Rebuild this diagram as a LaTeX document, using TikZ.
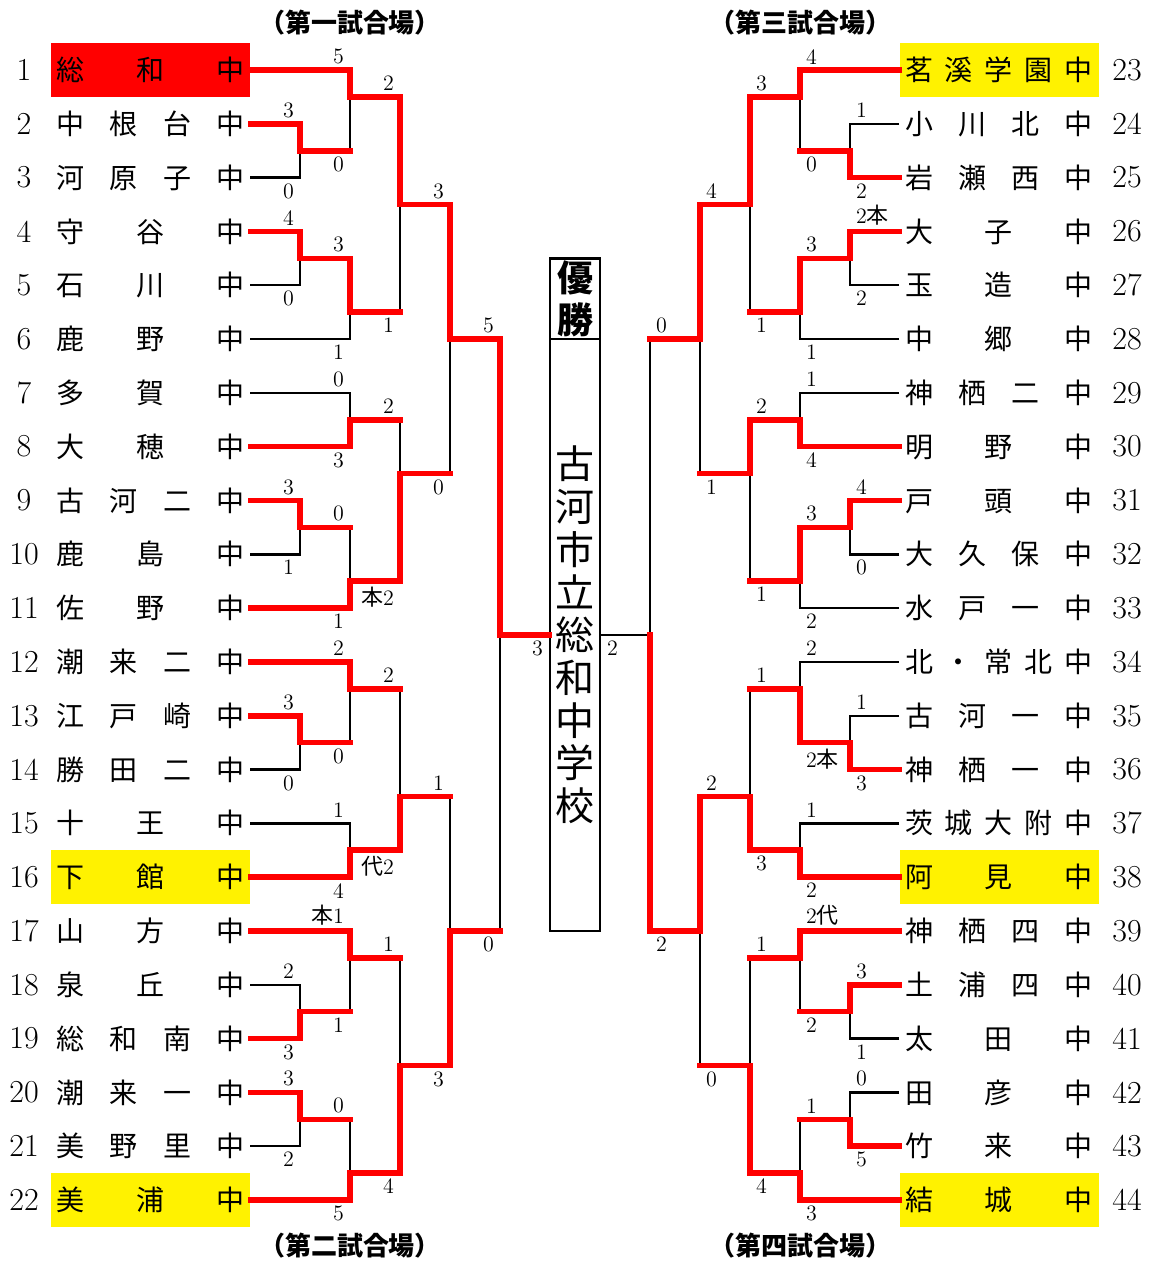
\documentclass[tikz,border=0pt]{standalone}
\usepackage{fontspec}
\newfontfamily\jp{Noto Sans CJK JP}
\newcommand\nm[1]{\makebox[94pt][s]{#1}}
\tikzset{
  team/.style={minimum width=99.5pt, minimum height=26.905pt, inner sep=0pt, font=\jp\fontsize{14}{14}\selectfont},
  num/.style={font=\fontsize{16}{16}\selectfont},
  sc/.style={text=black, font=\fontsize{11}{11}\selectfont, inner sep=1pt, outer sep=2pt},
  win/.style={red, line width=2.8pt, line cap=rect},
  lose/.style={line width=1.2pt},
  field/.style={font=\jp\bfseries\fontsize{13}{13}\selectfont},
  champ/.style={draw, line width=1.2pt, minimum width=25pt, inner sep=0pt, align=center}
}
\begin{document}
\begin{tikzpicture}[x=25pt, y=-13.4525pt]
\useasboundingbox (0,-0.6018) rectangle (23,46.267);
\node[field] (fld1) at (7,0.22) {（第一試合場）};
\node[field] (fld2) at (7,45.71) {（第二試合場）};
\node[field] (fld3) at (16,0.22) {（第三試合場）};
\node[field] (fld4) at (16,45.71) {（第四試合場）};
\foreach \i in {1,...,22} \node[num] (n\i) at (0.48,2*\i) {\i};
\foreach \i in {23,...,44} \node[num] (n\i) at (22.54,{2*\i-44}) {\i};
\node[team, fill=red] (t1) at (3.01,2) {\nm{総 和 中}};
\node[team] (t2) at (3.01,4) {\nm{中 根 台 中}};
\node[team] (t3) at (3.01,6) {\nm{河 原 子 中}};
\node[team] (t4) at (3.01,8) {\nm{守 谷 中}};
\node[team] (t5) at (3.01,10) {\nm{石 川 中}};
\node[team] (t6) at (3.01,12) {\nm{鹿 野 中}};
\node[team] (t7) at (3.01,14) {\nm{多 賀 中}};
\node[team] (t8) at (3.01,16) {\nm{大 穂 中}};
\node[team] (t9) at (3.01,18) {\nm{古 河 二 中}};
\node[team] (t10) at (3.01,20) {\nm{鹿 島 中}};
\node[team] (t11) at (3.01,22) {\nm{佐 野 中}};
\node[team] (t12) at (3.01,24) {\nm{潮 来 二 中}};
\node[team] (t13) at (3.01,26) {\nm{江 戸 崎 中}};
\node[team] (t14) at (3.01,28) {\nm{勝 田 二 中}};
\node[team] (t15) at (3.01,30) {\nm{十 王 中}};
\node[team, fill=yellow] (t16) at (3.01,32) {\nm{下 館 中}};
\node[team] (t17) at (3.01,34) {\nm{山 方 中}};
\node[team] (t18) at (3.01,36) {\nm{泉 丘 中}};
\node[team] (t19) at (3.01,38) {\nm{総 和 南 中}};
\node[team] (t20) at (3.01,40) {\nm{潮 来 一 中}};
\node[team] (t21) at (3.01,42) {\nm{美 野 里 中}};
\node[team, fill=yellow] (t22) at (3.01,44) {\nm{美 浦 中}};
\node[team, fill=yellow] (t23) at (19.98,2) {\nm{茗 溪 学 園 中}};
\node[team] (t24) at (19.98,4) {\nm{小 川 北 中}};
\node[team] (t25) at (19.98,6) {\nm{岩 瀬 西 中}};
\node[team] (t26) at (19.98,8) {\nm{大 子 中}};
\node[team] (t27) at (19.98,10) {\nm{玉 造 中}};
\node[team] (t28) at (19.98,12) {\nm{中 郷 中}};
\node[team] (t29) at (19.98,14) {\nm{神 栖 二 中}};
\node[team] (t30) at (19.98,16) {\nm{明 野 中}};
\node[team] (t31) at (19.98,18) {\nm{戸 頭 中}};
\node[team] (t32) at (19.98,20) {\nm{大 久 保 中}};
\node[team] (t33) at (19.98,22) {\nm{水 戸 一 中}};
\node[team] (t34) at (19.98,24) {\nm{北 ・ 常 北 中}};
\node[team] (t35) at (19.98,26) {\nm{古 河 一 中}};
\node[team] (t36) at (19.98,28) {\nm{神 栖 一 中}};
\node[team] (t37) at (19.98,30) {\nm{茨 城 大 附 中}};
\node[team, fill=yellow] (t38) at (19.98,32) {\nm{阿 見 中}};
\node[team] (t39) at (19.98,34) {\nm{神 栖 四 中}};
\node[team] (t40) at (19.98,36) {\nm{土 浦 四 中}};
\node[team] (t41) at (19.98,38) {\nm{太 田 中}};
\node[team] (t42) at (19.98,40) {\nm{田 彦 中}};
\node[team] (t43) at (19.98,42) {\nm{竹 来 中}};
\node[team, fill=yellow] (t44) at (19.98,44) {\nm{結 城 中}};
\node[champ, minimum height=40.36pt, font=\jp\bfseries\fontsize{18}{21}\selectfont] (yusho) at (11.5,10.5) {優\\勝};
\node[champ, minimum height=295.96pt, font=\jp\fontsize{19.5}{21.35}\selectfont] (school) at (11.5,23) {古\\河\\市\\立\\総\\和\\中\\学\\校};
\coordinate (a1) at (6,5);
\coordinate (a2) at (7,3);
\coordinate (a3) at (6,9);
\coordinate (a4) at (7,11);
\coordinate (a5) at (8,7);
\coordinate (a6) at (7,15);
\coordinate (a7) at (6,19);
\coordinate (a8) at (7,21);
\coordinate (a9) at (8,17);
\coordinate (a10) at (9,12);
\coordinate (b1) at (6,27);
\coordinate (b2) at (7,25);
\coordinate (b3) at (7,31);
\coordinate (b4) at (8,29);
\coordinate (b5) at (6,37);
\coordinate (b6) at (7,35);
\coordinate (b7) at (6,41);
\coordinate (b8) at (7,43);
\coordinate (b9) at (8,39);
\coordinate (b10) at (9,34);
\coordinate (lf) at (10,23);
\coordinate (c1) at (17,5);
\coordinate (c2) at (16,3);
\coordinate (c3) at (17,9);
\coordinate (c4) at (16,11);
\coordinate (c5) at (15,7);
\coordinate (c6) at (16,15);
\coordinate (c7) at (17,19);
\coordinate (c8) at (16,21);
\coordinate (c9) at (15,17);
\coordinate (c10) at (14,12);
\coordinate (d1) at (17,27);
\coordinate (d2) at (16,25);
\coordinate (d3) at (16,31);
\coordinate (d4) at (15,29);
\coordinate (d5) at (17,37);
\coordinate (d6) at (16,35);
\coordinate (d7) at (17,41);
\coordinate (d8) at (16,43);
\coordinate (d9) at (15,39);
\coordinate (d10) at (14,34);
\coordinate (rf) at (13,23);
\draw[lose] (t3.east) -| node[sc, below left]{0} (a1);
\draw[lose] (a1) -| node[sc, below left]{0} (a2);
\draw[lose] (t5.east) -| node[sc, below left]{0} (a3);
\draw[lose] (t6.east) -| node[sc, below left]{1} (a4);
\draw[lose] (a4) -| node[sc, below left]{1} (a5);
\draw[lose] (t7.east) -| node[sc, above left]{0} (a6);
\draw[lose] (t10.east) -| node[sc, below left]{1} (a7);
\draw[lose] (a7) -| node[sc, above left]{0} (a8);
\draw[lose] (a6) -| node[sc, above left]{2} (a9);
\draw[lose] (a9) -| node[sc, below left]{0} (a10);
\draw[lose] (t14.east) -| node[sc, below left]{0} (b1);
\draw[lose] (b1) -| node[sc, below left]{0} (b2);
\draw[lose] (t15.east) -| node[sc, above left]{1} (b3);
\draw[lose] (b2) -| node[sc, above left]{2} (b4);
\draw[lose] (t18.east) -| node[sc, above left]{2} (b5);
\draw[lose] (b5) -| node[sc, below left]{1} (b6);
\draw[lose] (t21.east) -| node[sc, below left]{2} (b7);
\draw[lose] (b7) -| node[sc, above left]{0} (b8);
\draw[lose] (b6) -| node[sc, above left]{1} (b9);
\draw[lose] (b4) -| node[sc, above left]{1} (b10);
\draw[lose] (b10) -| node[sc, below left]{0} (lf);
\draw[lose] (t24.west) -| node[sc, above right]{1} (c1);
\draw[lose] (c1) -| node[sc, below right]{0} (c2);
\draw[lose] (t27.west) -| node[sc, below right]{2} (c3);
\draw[lose] (t28.west) -| node[sc, below right]{1} (c4);
\draw[lose] (c4) -| node[sc, below right]{1} (c5);
\draw[lose] (t29.west) -| node[sc, above right]{1} (c6);
\draw[lose] (t32.west) -| node[sc, below right]{0} (c7);
\draw[lose] (t33.west) -| node[sc, below right]{2} (c8);
\draw[lose] (c8) -| node[sc, below right]{1} (c9);
\draw[lose] (c9) -| node[sc, below right]{1} (c10);
\draw[lose] (t35.west) -| node[sc, above right]{1} (d1);
\draw[lose] (t34.west) -| node[sc, above right]{2} (d2);
\draw[lose] (t37.west) -| node[sc, above right]{1} (d3);
\draw[lose] (d2) -| node[sc, above right]{1} (d4);
\draw[lose] (t41.west) -| node[sc, below right]{1} (d5);
\draw[lose] (d5) -| node[sc, below right]{2} (d6);
\draw[lose] (t42.west) -| node[sc, above right]{0} (d7);
\draw[lose] (d7) -| node[sc, above right]{1} (d8);
\draw[lose] (d6) -| node[sc, above right]{1} (d9);
\draw[lose] (d9) -| node[sc, below right]{0} (d10);
\draw[lose] (c10) -| node[sc, above right]{0} (rf);
\draw[lose] (rf) -- node[sc, pos=1, below right]{2} (school.east);
\draw[win] (t2.east) -| node[sc, above left]{3} (a1) -- (a1 -| a2);
\draw[win] (t1.east) -| node[sc, above left]{5} (a2) -- (a2 -| a5);
\draw[win] (t4.east) -| node[sc, above left]{4} (a3) -- (a3 -| a4);
\draw[win] (a3) -| node[sc, above left]{3} (a4) -- (a4 -| a5);
\draw[win] (a2) -| node[sc, above left]{2} (a5) -- (a5 -| a10);
\draw[win] (t8.east) -| node[sc, below left]{3} (a6) -- (a6 -| a9);
\draw[win] (t9.east) -| node[sc, above left]{3} (a7) -- (a7 -| a8);
\draw[win] (t11.east) -| node[sc, below left]{1} (a8) -- (a8 -| a9);
\draw[win] (a8) -| node[sc, below left]{{\jp 本}2} (a9) -- (a9 -| a10);
\draw[win] (a5) -| node[sc, above left]{3} (a10) -- (a10 -| lf);
\draw[win] (t13.east) -| node[sc, above left]{3} (b1) -- (b1 -| b2);
\draw[win] (t12.east) -| node[sc, above left]{2} (b2) -- (b2 -| b4);
\draw[win] (t16.east) -| node[sc, below left]{4} (b3) -- (b3 -| b4);
\draw[win] (b3) -| node[sc, below left]{{\jp 代}2} (b4) -- (b4 -| b10);
\draw[win] (t19.east) -| node[sc, below left]{3} (b5) -- (b5 -| b6);
\draw[win] (t17.east) -| node[sc, above left]{{\jp 本}1} (b6) -- (b6 -| b9);
\draw[win] (t20.east) -| node[sc, above left]{3} (b7) -- (b7 -| b8);
\draw[win] (t22.east) -| node[sc, below left]{5} (b8) -- (b8 -| b9);
\draw[win] (b8) -| node[sc, below left]{4} (b9) -- (b9 -| b10);
\draw[win] (b9) -| node[sc, below left]{3} (b10) -- (b10 -| lf);
\draw[win] (a10) -| node[sc, above left]{5} (lf) -- node[sc, pos=1, below left]{3} (school.west);
\draw[win] (t25.west) -| node[sc, below right]{2} (c1) -- (c1 -| c2);
\draw[win] (t23.west) -| node[sc, above right]{4} (c2) -- (c2 -| c5);
\draw[win] (t26.west) -| node[sc, above right]{2{\jp 本}} (c3) -- (c3 -| c4);
\draw[win] (c3) -| node[sc, above right]{3} (c4) -- (c4 -| c5);
\draw[win] (c2) -| node[sc, above right]{3} (c5) -- (c5 -| c10);
\draw[win] (t30.west) -| node[sc, below right]{4} (c6) -- (c6 -| c9);
\draw[win] (t31.west) -| node[sc, above right]{4} (c7) -- (c7 -| c8);
\draw[win] (c7) -| node[sc, above right]{3} (c8) -- (c8 -| c9);
\draw[win] (c6) -| node[sc, above right]{2} (c9) -- (c9 -| c10);
\draw[win] (c5) -| node[sc, above right]{4} (c10) -- (c10 -| rf);
\draw[win] (t36.west) -| node[sc, below right]{3} (d1) -- (d1 -| d2);
\draw[win] (d1) -| node[sc, below right]{2{\jp 本}} (d2) -- (d2 -| d4);
\draw[win] (t38.west) -| node[sc, below right]{2} (d3) -- (d3 -| d4);
\draw[win] (d3) -| node[sc, below right]{3} (d4) -- (d4 -| d10);
\draw[win] (t40.west) -| node[sc, above right]{3} (d5) -- (d5 -| d6);
\draw[win] (t39.west) -| node[sc, above right]{2{\jp 代}} (d6) -- (d6 -| d9);
\draw[win] (t43.west) -| node[sc, below right]{5} (d7) -- (d7 -| d8);
\draw[win] (t44.west) -| node[sc, below right]{3} (d8) -- (d8 -| d9);
\draw[win] (d8) -| node[sc, below right]{4} (d9) -- (d9 -| d10);
\draw[win] (d4) -| node[sc, above right]{2} (d10) -- (d10 -| rf);
\draw[win] (d10) -| node[sc, below right]{2} (rf);
\end{tikzpicture}
\end{document}
